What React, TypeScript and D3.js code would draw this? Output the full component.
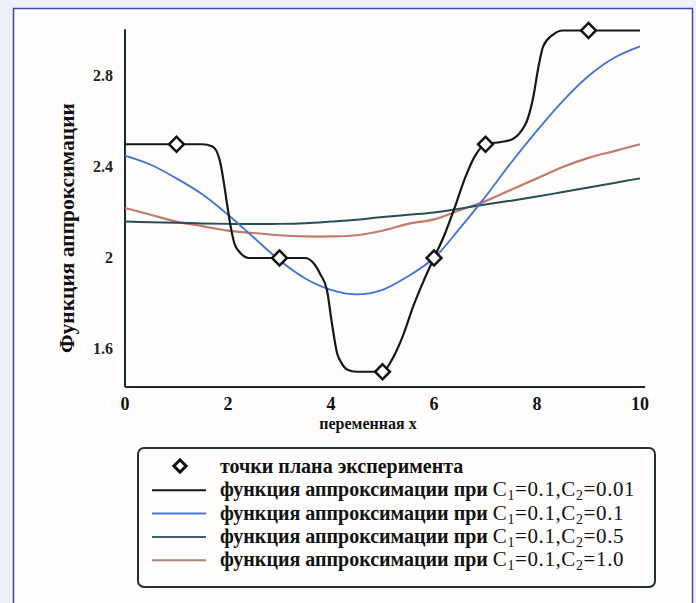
import { useEffect, useRef } from "react";
import * as d3 from "d3";

// experiment plan points
const planX = [1, 3, 5, 6, 7, 9];
const planY = [2.5, 2.0, 1.5, 2.0, 2.5, 3.0];

// C1=0.1, C2=0.01 (almost step-like)
const c001X = [0, 0.5, 1, 1.5, 1.7, 1.84, 1.92, 1.98, 2.05, 2.13, 2.25, 2.4, 3, 3.5, 3.65, 3.79, 3.92, 4.02, 4.12, 4.2, 4.31, 4.5, 4.8, 5, 5.2, 5.4, 5.6, 5.8, 6, 6.2, 6.4, 6.6, 6.8, 7, 7.3, 7.5, 7.7, 7.8, 7.93, 8.02, 8.12, 8.3, 8.5, 9, 10];
const c001Y = [2.5, 2.5, 2.5, 2.5, 2.49, 2.43, 2.33, 2.24, 2.14, 2.06, 2.02, 2.0, 2.0, 2.0, 1.98, 1.93, 1.86, 1.71, 1.58, 1.54, 1.51, 1.5, 1.5, 1.5, 1.56, 1.66, 1.79, 1.9, 2.0, 2.1, 2.22, 2.35, 2.45, 2.5, 2.51, 2.52, 2.56, 2.6, 2.71, 2.83, 2.93, 2.98, 3.0, 3.0, 3.0];

const smoothX = [0, 0.5, 1, 1.5, 2, 2.5, 3, 3.5, 4, 4.5, 5, 5.5, 6, 6.5, 7, 7.5, 8, 8.5, 9, 9.5, 10];
// C1=0.1, C2=0.1
const c01Y = [2.45, 2.41, 2.35, 2.28, 2.19, 2.09, 1.99, 1.91, 1.86, 1.84, 1.86, 1.92, 2.0, 2.13, 2.27, 2.42, 2.56, 2.69, 2.8, 2.88, 2.93];
// C1=0.1, C2=0.5
const c05Y = [2.16, 2.157, 2.155, 2.152, 2.15, 2.15, 2.15, 2.153, 2.16, 2.168, 2.18, 2.19, 2.2, 2.217, 2.235, 2.252, 2.27, 2.29, 2.31, 2.33, 2.35];
// C1=0.1, C2=1.0
const c10Y = [2.22, 2.19, 2.16, 2.14, 2.12, 2.11, 2.1, 2.095, 2.095, 2.1, 2.12, 2.15, 2.17, 2.21, 2.25, 2.3, 2.35, 2.4, 2.44, 2.47, 2.5];

const xTicks = [0, 2, 4, 6, 8, 10];
const yTicks = [1.6, 2, 2.4, 2.8];

const legendLabels = [
  "точки плана эксперимента",
  "функция аппроксимации при ",
  "функция аппроксимации при ",
  "функция аппроксимации при ",
  "функция аппроксимации при ",
];
const legendC2 = ["", "0.01", "0.1", "0.5", "1.0"];

const colors = ["#111a1a", "#3f72d6", "#244e58", "#c27a6c"];
const legendColors = ["#111a1a", "#4a78d8", "#3f5f6e", "#a88478"];

export default function App() {
  const ref = useRef<SVGSVGElement | null>(null);

  useEffect(() => {
    const svg = d3.select(ref.current).html("");
    const font = "'Liberation Serif', 'Times New Roman', serif";

    svg.append("rect").attr("width", 696).attr("height", 603).attr("fill", "#eef1f8");
    svg
      .append("rect")
      .attr("x", 13.5)
      .attr("y", 8.5)
      .attr("width", 679)
      .attr("height", 620)
      .attr("fill", "#fffdfc")
      .attr("stroke", "#3c4aa6")
      .attr("stroke-width", 1.5);

    const x = d3.scaleLinear().domain([0, 10]).range([125, 640]);
    const y = d3.scaleLinear().domain([2, 2.8]).range([258, 76]);

    const g = svg.append("g");

    // axes
    g.append("line")
      .attr("x1", x(0)).attr("x2", x(0))
      .attr("y1", y(3.005)).attr("y2", y(y.invert(387)))
      .attr("stroke", "#1b2a2a").attr("stroke-width", 2);
    g.append("line")
      .attr("x1", x(0)).attr("x2", x(10.1))
      .attr("y1", 387).attr("y2", 387)
      .attr("stroke", "#1b2a2a").attr("stroke-width", 2);

    g.selectAll("text.xt")
      .data(xTicks)
      .join("text")
      .attr("class", "xt")
      .attr("x", (d) => x(d))
      .attr("y", 410)
      .attr("text-anchor", "middle")
      .attr("font-family", font)
      .attr("font-weight", "bold")
      .attr("font-size", 18)
      .attr("fill", "#111")
      .text((d) => d);

    g.selectAll("text.yt")
      .data(yTicks)
      .join("text")
      .attr("class", "yt")
      .attr("x", 113)
      .attr("y", (d) => y(d) + 5)
      .attr("text-anchor", "end")
      .attr("font-family", font)
      .attr("font-weight", "bold")
      .attr("font-size", 16)
      .attr("fill", "#222")
      .text((d) => d);

    g.append("text")
      .attr("x", 368)
      .attr("y", 429)
      .attr("text-anchor", "middle")
      .attr("font-family", font)
      .attr("font-weight", "bold")
      .attr("font-size", 16)
      .attr("fill", "#111")
      .text("переменная x");

    g.append("text")
      .attr("transform", `translate(74,228) rotate(-90)`)
      .attr("text-anchor", "middle")
      .attr("font-family", font)
      .attr("font-weight", "bold")
      .attr("font-size", 21.5)
      .attr("fill", "#111")
      .text("Функция аппроксимации");

    const series = [
      { xs: c001X, ys: c001Y, curve: d3.curveMonotoneX, w: 2.2 },
      { xs: smoothX, ys: c01Y, curve: d3.curveCatmullRom, w: 1.8 },
      { xs: smoothX, ys: c05Y, curve: d3.curveCatmullRom, w: 2 },
      { xs: smoothX, ys: c10Y, curve: d3.curveCatmullRom, w: 2.2 },
    ];
    const order = [3, 2, 1, 0];
    order.forEach((i) => {
      const s = series[i];
      const line = d3
        .line<number>()
        .x((_, k) => x(s.xs[k]))
        .y((v) => y(v))
        .curve(s.curve);
      g.append("path")
        .attr("d", line(s.ys))
        .attr("fill", "none")
        .attr("stroke", colors[i])
        .attr("stroke-width", s.w);
    });

    const diamond = d3.symbol().type(d3.symbolSquare).size(110);
    g.selectAll("path.pt")
      .data(planX)
      .join("path")
      .attr("class", "pt")
      .attr("d", diamond() as string)
      .attr("transform", (d, i) => `translate(${x(d)},${y(planY[i])}) rotate(45)`)
      .attr("fill", "white")
      .attr("stroke", "#111")
      .attr("stroke-width", 2.5);

    // legend
    const lg = svg.append("g");
    lg.append("rect")
      .attr("x", 138)
      .attr("y", 448)
      .attr("width", 517)
      .attr("height", 139)
      .attr("rx", 6)
      .attr("fill", "#fffdfc")
      .attr("stroke", "#233030")
      .attr("stroke-width", 2);

    const rowY = (i: number) => 467 + i * 23.3;
    legendLabels.forEach((lab, i) => {
      if (i === 0) {
        lg.append("path")
          .attr("d", d3.symbol().type(d3.symbolSquare).size(75)() as string)
          .attr("transform", `translate(180,${rowY(0) - 1}) rotate(45)`)
          .attr("fill", "white")
          .attr("stroke", "#111")
          .attr("stroke-width", 3);
      } else {
        lg.append("line")
          .attr("x1", 152)
          .attr("x2", 206)
          .attr("y1", rowY(i))
          .attr("y2", rowY(i))
          .attr("stroke", legendColors[i - 1])
          .attr("stroke-width", 2);
      }
      const t = lg
        .append("text")
        .attr("x", 220)
        .attr("y", rowY(i) + 6)
        .attr("font-family", font)
        .attr("font-weight", "bold")
        .attr("font-size", 20)
        .attr("fill", "#111")
        .text(lab);
      if (i > 0) {
        const part = (txt: string, size: number, dy: number) =>
          t
            .append("tspan")
            .attr("font-weight", "normal")
            .attr("font-size", size)
            .attr("letter-spacing", 0.6)
            .attr("dy", dy)
            .text(txt);
        part("C", 21, 0);
        part("1", 14, 4);
        part("=0.1,C", 21, -4);
        part("2", 14, 4);
        part("=" + legendC2[i], 21, -4);
      }
    });
  }, []);

  return (
    <svg
      ref={ref}
      width={696}
      height={603}
      style={{ position: "absolute", left: 0, top: 0 }}
    />
  );
}
